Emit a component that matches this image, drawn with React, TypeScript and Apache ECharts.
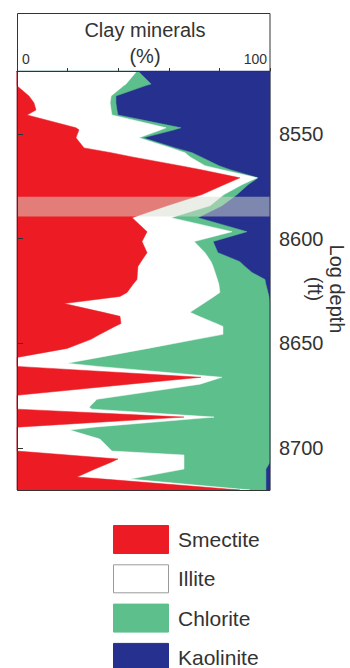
import { useEffect, useRef } from "react";
import * as echarts from "echarts";

// Sample depths (ft) and clay-mineral fractions (%) at each sample
const depths = [
  8520.0, 8526.2, 8527.1, 8531.9, 8535.2, 8538.6, 8541.0, 8547.1, 8548.1, 8551.9,
  8556.7, 8559.0, 8561.0, 8565.2, 8567.1, 8571.0, 8574.3, 8579.0, 8584.3, 8590.0,
  8596.7, 8601.4, 8606.7, 8611.0, 8613.3, 8616.2, 8619.5, 8621.9, 8625.7, 8627.6,
  8631.0, 8635.2, 8637.1, 8640.5, 8641.9, 8645.7, 8648.1, 8652.4, 8656.7, 8659.5,
  8661.0, 8666.2, 8669.5, 8674.8, 8676.7, 8680.5, 8681.4, 8685.2, 8690.0, 8691.4,
  8695.7, 8701.4, 8703.3, 8705.2, 8706.7, 8710.0, 8713.8, 8714.8, 8720.0,
];

const smectite = [
  0, 0, 0, 4.7, 6.7, 7.5, 4.0, 23.3, 24.5, 23.3,
  26.5, 37.2, 45.5, 64.4, 72.7, 88.1, 81.8, 73.1, 59.3, 45.5,
  51.4, 49.4, 51.4, 49.0, 47.8, 47.6, 47.4, 45.8, 43.5, 40.7,
  18.6, 34.0, 40.7, 41.1, 38.7, 32.8, 29.2, 19.8, 0, 0,
  0, 72.7, 44.3, 0, 0, 0, 0, 66.0, 0, 0,
  0, 0, 20.0, 39.9, 37.2, 30.8, 23.7, 34.4, 88.1,
];

const illite = [
  47.4, 43.1, 42.1, 32.5, 30.1, 29.7, 33.5, 35.6, 32.4, 24.9,
  34.4, 29.2, 22.9, 9.9, 8.3, 6.8, 7.1, 8.7, 17.0, 15.4,
  33.6, 20.6, 22.9, 27.7, 29.7, 30.7, 31.8, 34.0, 36.7, 37.2,
  55.1, 34.4, 31.2, 37.6, 42.7, 48.6, 41.6, 32.0, 32.4, 19.8,
  32.0, 8.3, 28.0, 42.5, 31.6, 28.5, 29.6, 11.9, 30.4, 20.9,
  32.8, 37.5, 46.0, 26.1, 28.8, 35.2, 25.3, 10.3, 4.0,
];

const chlorite = [
  0.4, 9.9, 8.5, 1.9, 2.3, 2.3, 2.4, 5.9, 5.2, 1.6,
  1.6, 2.8, 4.3, 5.5, 3.2, 0.4, 2.4, 5.2, 4.7, 10.6,
  5.9, 7.5, 5.1, 11.4, 12.6, 14.6, 18.8, 18.6, 19.0, 21.7,
  26.3, 31.6, 28.1, 21.3, 18.6, 18.6, 29.2, 48.2, 67.6, 80.2,
  68.0, 19.0, 27.7, 57.5, 68.4, 71.5, 70.4, 22.1, 69.6, 79.1,
  67.2, 62.5, 34.0, 34.0, 34.0, 32.4, 49.4, 53.7, 6.3,
];

const kaolinite = [
  52.2, 47.0, 49.4, 60.9, 60.9, 60.5, 60.1, 35.2, 37.9, 50.2,
  37.5, 30.8, 27.3, 20.2, 15.8, 4.7, 8.7, 13.0, 19.0, 28.5,
  9.1, 22.5, 20.6, 11.9, 9.9, 7.1, 2.0, 1.6, 0.8, 0.4,
  0, 0, 0, 0, 0, 0, 0, 0, 0, 0,
  0, 0, 0, 0, 0, 0, 0, 0, 0, 0,
  0, 0, 0, 0, 0, 1.6, 1.6, 1.6, 1.6,
];

const depthTicks = [8550, 8600, 8650, 8700];
const percentLabels = [0, 100];
const sampledInterval = [8580, 8589.5];

const FONT = "'Liberation Sans', Arial, Helvetica, sans-serif";
const INK = "#333333";

const minerals = [
  { name: "Smectite", values: smectite, color: "#ED1C24" },
  { name: "Illite", values: illite, color: "#FFFFFF" },
  { name: "Chlorite", values: chlorite, color: "#5CBF8C" },
  { name: "Kaolinite", values: kaolinite, color: "#25308F" },
];

// Key: swatch + name, stacked vertically under the log
function legendGraphics() {
  const left = 113;
  const top = 525;
  const step = 39.3;
  const items: any[] = [];
  minerals.forEach((m, i) => {
    const y = top + i * step;
    items.push({
      type: "rect",
      silent: true,
      shape: { x: left + 0.5, y: y + 0.5, width: 55, height: 28 },
      style: {
        fill: m.color,
        stroke: m.name === "Illite" ? "#9a9a9a" : m.color,
        lineWidth: 1,
      },
    });
    items.push({
      type: "text",
      silent: true,
      x: left + 65,
      y: y + 14.5,
      style: {
        text: m.name,
        font: `21px ${FONT}`,
        fill: INK,
        align: "left",
        verticalAlign: "middle",
      },
    });
  });
  return { type: "group", z: 100, children: items };
}

export default function App() {
  const ref = useRef<HTMLDivElement>(null);

  useEffect(() => {
    if (!ref.current) return;
    const chart = echarts.init(ref.current, undefined, { renderer: "svg" });

    // cumulative right edge of each mineral (stacked left to right)
    const edges: number[][] = [];
    minerals.forEach((m, k) => {
      edges.push(
        m.values.map((v, i) => (k === 0 ? 0 : edges[k - 1][i]) + v)
      );
    });

    const last = depths.length - 1;
    // drawn back to front: each polygon spans from 0% to its cumulative edge
    const mineralSeries = minerals
      .map((m, k) => ({
        type: "custom",
        name: m.name,
        coordinateSystem: "cartesian2d",
        silent: true,
        itemStyle: { color: m.color },
        data: [[0, depths[0]]],
        encode: { x: 0, y: 1 },
        renderItem: (_params: any, api: any) => {
          const pts: number[][] = [api.coord([0, depths[0]])];
          depths.forEach((d, i) => pts.push(api.coord([edges[k][i], d])));
          pts.push(api.coord([0, depths[last]]));
          return {
            type: "polygon",
            shape: { points: pts },
            style: { fill: m.color, stroke: m.color, lineWidth: 0.5 },
          };
        },
      }))
      .reverse();

    const bandSeries = {
      type: "custom",
      name: "interval",
      coordinateSystem: "cartesian2d",
      silent: true,
      data: [[0, sampledInterval[0]]],
      encode: { x: 0, y: 1 },
      renderItem: (_params: any, api: any) => {
        const a = api.coord([0, sampledInterval[0]]);
        const b = api.coord([100, sampledInterval[1]]);
        return {
          type: "rect",
          shape: { x: a[0], y: a[1], width: b[0] - a[0], height: b[1] - a[1] },
          style: { fill: "rgba(215,222,205,0.5)" },
        };
      },
    };

    chart.setOption({
      animation: false,
      backgroundColor: "#ffffff",
      textStyle: { fontFamily: FONT },
      grid: { left: 17, top: 71, width: 253, height: 419 },
      xAxis: {
        type: "value",
        position: "top",
        min: 0,
        max: 100,
        interval: 20,
        z: 5,
        axisLine: { show: true, lineStyle: { color: INK, width: 1 } },
        axisTick: { show: true, length: 3, lineStyle: { color: INK } },
        axisLabel: {
          formatter: (v: number) => (percentLabels.includes(v) ? String(v) : ""),
          fontSize: 14,
          color: INK,
          margin: 5,
          alignMinLabel: "left",
          alignMaxLabel: "right",
          padding: [0, 3, 0, 5],
        },
        splitLine: { show: false },
      },
      yAxis: {
        type: "value",
        position: "right",
        inverse: true,
        min: depths[0],
        max: depths[last],
        z: 5,
        axisLine: { show: true, lineStyle: { color: INK, width: 1 } },
        axisTick: {
          show: true,
          length: 6,
          customValues: depthTicks,
          lineStyle: { color: INK },
        },
        axisLabel: {
          customValues: depthTicks,
          formatter: (v: number) => String(v),
          fontSize: 20,
          color: INK,
          margin: 9,
        },
        splitLine: { show: false },
      },
      graphic: [
        {
          type: "rect",
          z: 100,
          silent: true,
          shape: { x: 17.5, y: 13.5, width: 252.5, height: 477 },
          style: { fill: "none", stroke: INK, lineWidth: 1 },
        },
        {
          type: "text",
          z: 100,
          x: 145,
          y: 43,
          style: {
            text: "Clay minerals\n(%)",
            font: `20px ${FONT}`,
            lineHeight: 26,
            align: "center",
            verticalAlign: "middle",
            fill: INK,
          },
        },
        {
          type: "text",
          z: 100,
          x: 326,
          y: 289,
          rotation: -Math.PI / 2,
          style: {
            text: "Log depth\n(ft)",
            font: `20px ${FONT}`,
            lineHeight: 22,
            align: "center",
            verticalAlign: "middle",
            fill: INK,
          },
        },
        legendGraphics(),
      ],
      series: [...mineralSeries, bandSeries],
    });

    return () => chart.dispose();
  }, []);

  return (
    <div
      ref={ref}
      style={{ position: "absolute", left: 0, top: 0, width: 350, height: 668 }}
    />
  );
}
